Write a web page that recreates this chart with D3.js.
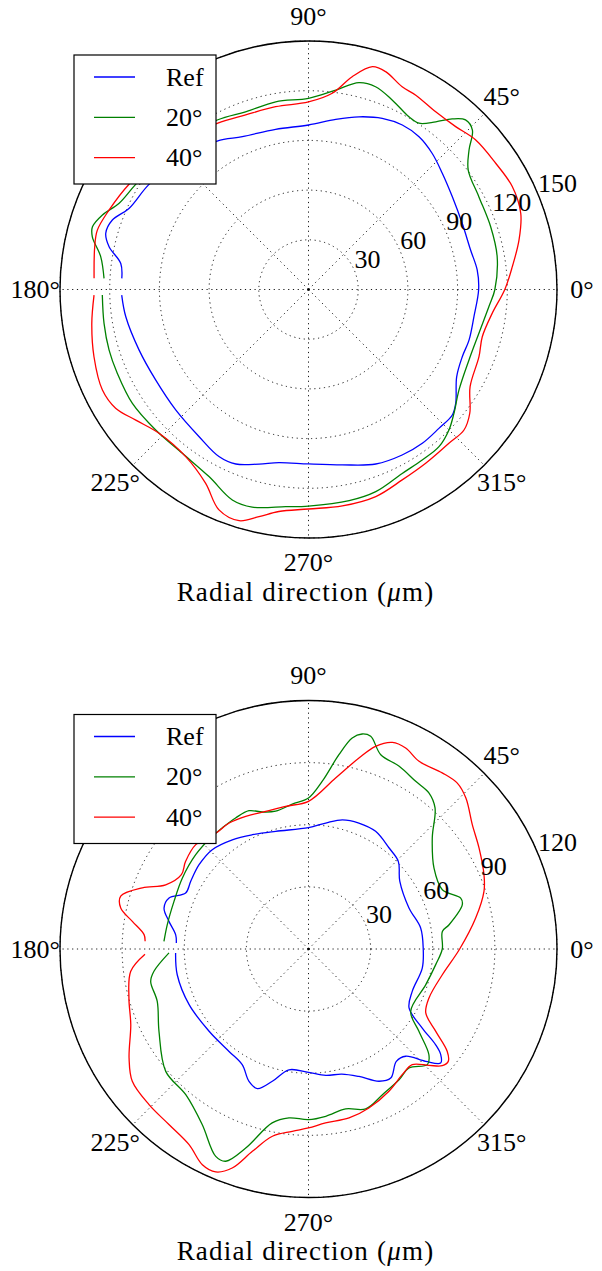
<!DOCTYPE html>
<html>
<head>
<meta charset="utf-8">
<script src="https://cdn.jsdelivr.net/npm/d3@7"></script>
<style>
body { margin: 0; background: #fff; }
</style>
</head>
<body>
<script>
// shared labels
const angleTicks = [0, 45, 90, 135, 180, 225, 270, 315];
const seriesNames = ["Ref", "20°", "40°"];
const seriesColors = ["#0000ff", "#008000", "#ff0000"];

// top panel
const topTicks = [30, 60, 90, 120, 150];
const topRefTheta = [-178.3,-171.5,-160.4,-149.4,-137.8,-126.6,-118.2,-112.6,-105.8,-99.7,-90,-79.1,-68.9,-60.5,-53.5,-46.8,-41.1,-37.7,-30.5,-23.6,-17.5,-9.3,0,6.6,13.7,23.3,32.8,41,47.7,54.1,60.3,66.7,73.7,80.9,90,101.6,113.4,121.6,134,146.6,155.7,160.5,164.5,167.9,172.1,176.6];
const topRefR = [112.8,111.5,108.6,107.2,108.2,110.7,114.4,114.1,109.5,106,105.3,107.8,112.9,114.8,115.5,115,115.2,112.3,103.8,101.3,101.6,101.2,102.7,102.5,100.7,101,103.3,107,111,113.8,114.3,112.5,108.6,104,99.3,98.7,100.5,105.2,110,115.3,118.9,125.6,127,123.1,114.4,112.9];
const top20Theta = [-178.5,-170.6,-163.1,-156.3,-147.1,-137.4,-127.6,-118,-109.9,-104.5,-96,-90,-79.1,-71.6,-63,-56.3,-50.3,-45,-40.4,-33.7,-23.7,-14.4,-5.4,0,9.9,19,28.6,36.8,41,44.2,47.2,49.9,52.8,56.4,59.8,66.1,71.7,76.3,82.2,90,99.9,109.5,118.3,133,148.7,155.5,160.1,163.8,166.3,171,176.9];
const top20R = [124.5,125.1,125.8,126,126.6,125.3,124.8,127.9,135.1,135.7,131.8,130.7,129.8,128.6,124.6,123.7,123.3,119.9,115.3,109.2,105.8,106.2,109.4,112.5,115.6,116.3,117.1,120.4,128.4,138,139.5,134.6,127.1,120.5,120.6,125,128.9,128.5,121.5,115.4,115,113.8,116.2,119,122.1,125.6,132.3,135.8,134.3,127,123.6];
const top40Theta = [-178.5,-171.1,-162.6,-154,-148.4,-142.9,-136.1,-126.3,-118,-112.1,-106.7,-102.3,-97.6,-90,-81.1,-72,-63.8,-56,-47.6,-42.1,-37.5,-31,-21.5,-15.2,-7.4,0,6.4,13.2,19.7,26.8,34,41.8,47.9,54.4,61.1,65.2,70.5,74,78.4,83.1,90,100.2,109.8,118.8,134,149.6,158.3,164.3,168.7,177];
const top40R = [129.5,132.4,135.7,138.4,136.7,130.7,125.2,125.2,132.4,143.6,145.7,140.3,135.2,132.5,132.2,131.4,128.1,126.5,125.7,126.5,122.7,113.8,110.6,108.7,111.8,118.5,123.8,130.5,136.1,137.8,136.3,135.4,132.5,131.9,134,134.8,139.5,139.9,131.1,119.3,113.2,112.1,112,114.4,120,125.6,129.6,132.4,131.6,129.6];

// bottom panel
const bottomTicks = [30, 60, 90, 120];
const botRefTheta = [-178.3,-168.9,-155,-140.4,-127.8,-119.8,-114.2,-110.1,-105.3,-99.2,-90,-82.2,-75.1,-68.4,-61.9,-57.5,-52,-47.8,-43.8,-40.8,-38.6,-37,-34.8,-30.4,-22.2,-9.5,0,10.6,22.2,36.6,44.3,51.4,60.3,68.2,75.3,82.2,90,105.6,116.2,124.9,134.1,142.4,150.1,155.5,159.9,164.2,168.8,173.9,177.4];
const botRefR = [64.2,64.6,63.6,62.3,62.6,64.4,70.1,71.8,66.2,59.1,59.6,61.6,62.5,66.2,72.4,73.9,68.9,69.9,78.4,84.3,81.7,76.9,66.9,56.3,54.1,55.7,55.4,55.1,52.4,54.9,60.6,62.4,65.4,65.5,64.5,61.4,58.6,59,61.5,64.3,66.8,66.7,65.6,65.2,71.7,72.5,68.7,64.5,63.9];
const bot20Theta = [-178.4,-171.8,-168.4,-160.9,-151.2,-139.4,-130.1,-121.2,-114.1,-111.3,-107.5,-101.8,-96.6,-90,-84.1,-76.9,-70.3,-63.1,-55.3,-49.8,-44.2,-41.3,-36.7,-31.4,-16.9,-7,0,7.5,9.8,16.1,18.5,23.9,32.8,41.9,48.1,52.3,57.4,63.6,69.6,73.7,76,78.3,81.1,85.3,90,96.4,103.4,108.6,113.3,119.1,125.5,130.5,140.1,150.6,160.5,170.2,177];
const bot20R = [67.4,75.4,77.8,77.3,82.4,90.8,92,99.1,109.7,110,100.8,85.8,82.1,82.4,81.2,79.3,82,78.9,76.8,75.2,80.1,77.4,66.5,57.8,59.2,61.9,64.6,65.2,68.9,77.3,77.5,70.7,72.1,80.3,91.5,95.2,96.1,98.5,100.1,107,107,104.1,95,81.3,72.9,70.4,68.4,69.8,72.7,72.4,71.8,71.6,71,69.9,68.9,69.2,69.9];
const bot40Theta = [-178.2,-172.9,-164.7,-156.9,-148.7,-143.1,-135.7,-128.4,-121.4,-116.2,-112.6,-109.2,-105.5,-100.9,-95.1,-90,-84.4,-76.5,-69.2,-60.5,-53.3,-48.1,-44,-41.1,-38.8,-36.4,-32.9,-28.6,-22.1,-10.9,0,10.5,18.2,22.9,30.6,37.2,43.8,48.1,52.8,59.5,64.2,67.9,71.7,75.2,81,90,99.1,107.3,115.3,122.2,128.5,137.2,144.5,149.7,155.8,159.8,164.3,167.7,171.1,175,177.3];
const bot40R = [79,86.5,89.9,93.3,101.4,106.4,107.6,108.3,110.7,116.1,116.6,112,101.4,92.1,88.4,86.4,84.4,83.9,82.1,78.9,75.7,75,80.9,85.7,86.6,83.2,73.2,64.5,62.8,65.8,73,82.1,89.2,92,95.7,99.3,105.3,107.6,106.8,105.2,107.8,107.7,103.1,95.4,83.6,71.3,69.8,69.6,70.9,71.9,71.6,74.2,72.9,71.1,75.6,85.5,94.2,92.8,86.1,79.7,79];

const width = 602, height = 1271;
const cx = 308.5, R = 248.5;
const serifFont = "'Liberation Serif', 'Times New Roman', Times, 'DejaVu Serif', serif";
const rad = d => d * Math.PI / 180;

const svg = d3.select("body").append("svg")
    .attr("width", width)
    .attr("height", height)
    .attr("font-family", serifFont);

function zip(th, rr) {
    return th.map((t, i) => ({theta: t, r: rr[i]}));
}

function drawPanel(cy, rMax, ticks, series) {
    const r = d3.scaleLinear().domain([0, rMax]).range([0, R]);
    const g = svg.append("g").attr("transform", `translate(${cx},${cy})`);

    // grid circles
    g.selectAll(".ring").data(ticks).enter().append("circle")
        .attr("r", d => r(d))
        .attr("fill", "none")
        .attr("stroke", "#000")
        .attr("stroke-width", 0.9)
        .attr("stroke-dasharray", "1.2,3.6");

    // spokes
    g.selectAll(".spoke").data(angleTicks).enter().append("line")
        .attr("x1", 0).attr("y1", 0)
        .attr("x2", d => R * Math.cos(rad(d)))
        .attr("y2", d => -R * Math.sin(rad(d)))
        .attr("stroke", "#000")
        .attr("stroke-width", 0.9)
        .attr("stroke-dasharray", "1.2,3.6");

    g.append("circle").attr("r", 1.3).attr("fill", "#000");

    // series
    const line = d3.lineRadial()
        .angle(d => rad(90 - d.theta))
        .radius(d => r(d.r))
        .curve(d3.curveCatmullRom.alpha(0.5));

    series.forEach((s, i) => {
        g.append("path")
            .attr("d", line(s))
            .attr("fill", "none")
            .attr("stroke", seriesColors[i])
            .attr("stroke-width", 1.3);
    });

    // outer spine
    g.append("circle").attr("r", R)
        .attr("fill", "none")
        .attr("stroke", "#000")
        .attr("stroke-width", 1.4);

    // radial tick labels
    g.selectAll(".rlab").data(ticks).enter().append("text")
        .attr("x", d => r(d) * Math.cos(rad(22.5)))
        .attr("y", d => -r(d) * Math.sin(rad(22.5)) - 2.5)
        .attr("font-family", serifFont)
        .attr("font-size", 26)
        .text(d => d);

    // angle labels
    g.selectAll(".alab").data(angleTicks).enter().append("text")
        .attr("x", d => 1.1 * R * Math.cos(rad(d)))
        .attr("y", d => -1.1 * R * Math.sin(rad(d)))
        .attr("text-anchor", "middle")
        .attr("dominant-baseline", "central")
        .attr("font-family", serifFont)
        .attr("font-size", 26)
        .text(d => d + "°");

    // title
    const t = g.append("text")
        .attr("x", -3)
        .attr("y", 311)
        .attr("text-anchor", "middle")
        .attr("font-family", serifFont)
        .attr("font-size", 27)
        .attr("letter-spacing", 1.2);
    t.append("tspan").text("Radial direction (");
    t.append("tspan").attr("font-style", "italic").text("μ");
    t.append("tspan").text("m)");

    // legend
    const lg = g.append("g").attr("transform", `translate(${74 - cx},${-234.5})`);
    lg.append("rect")
        .attr("width", 142).attr("height", 129)
        .attr("fill", "#fff")
        .attr("stroke", "#000")
        .attr("stroke-width", 1.2);
    seriesNames.forEach((name, i) => {
        const y = 22 + i * 40.3;
        lg.append("line")
            .attr("x1", 20).attr("x2", 61)
            .attr("y1", y).attr("y2", y)
            .attr("stroke", seriesColors[i])
            .attr("stroke-width", 1.3);
        lg.append("text")
            .attr("x", 92)
            .attr("y", y)
            .attr("dominant-baseline", "central")
            .attr("font-family", serifFont)
            .attr("font-size", 26)
            .text(name);
    });
}

drawPanel(289.5, 150, topTicks, [
    zip(topRefTheta, topRefR),
    zip(top20Theta, top20R),
    zip(top40Theta, top40R)
]);

drawPanel(949, 120, bottomTicks, [
    zip(botRefTheta, botRefR),
    zip(bot20Theta, bot20R),
    zip(bot40Theta, bot40R)
]);
</script>
</body>
</html>
